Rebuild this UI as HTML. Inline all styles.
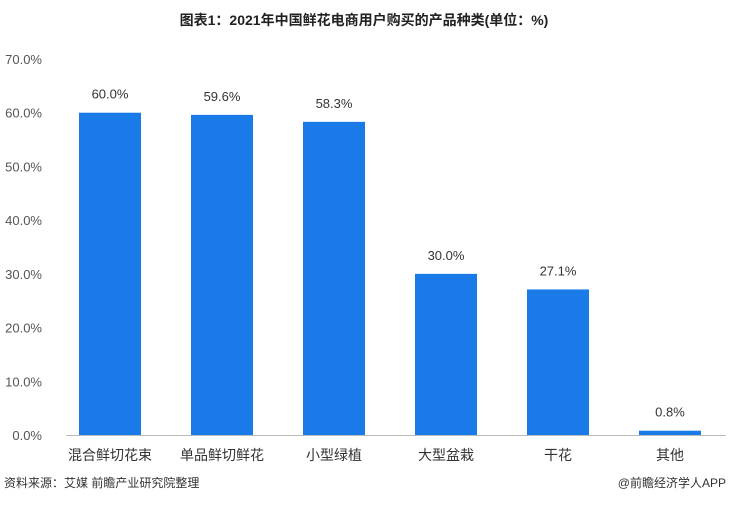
<!DOCTYPE html>
<html><head><meta charset="utf-8">
<style>
body{margin:0;background:#fff;width:729px;height:503px;overflow:hidden;font-family:"Liberation Sans","Noto Sans CJK SC",sans-serif;}
</style></head>
<body>
<svg id="chart" width="729" height="503" xmlns="http://www.w3.org/2000/svg">
<text x="364" y="25" text-anchor="middle" font-size="14" font-weight="bold" fill="#222">图表1：2021年中国鲜花电商用户购买的产品种类(单位：%)</text>
<g id="yaxis"></g>
<g id="bars"></g>
<line x1="66" y1="435.5" x2="726" y2="435.5" stroke="#bbb" stroke-width="1"/>
<text x="4" y="487" font-size="12" fill="#333">资料来源：艾媒 前瞻产业研究院整理</text>
<text x="726" y="487" text-anchor="end" font-size="12" fill="#333">@前瞻经济学人APP</text>
</svg>
<script>
const categories=["混合鲜切花束","单品鲜切鲜花","小型绿植","大型盆栽","干花","其他"];
const values=[60.0,59.6,58.3,30.0,27.1,0.8];
const ticks=[0,10,20,30,40,50,60,70];
const NS="http://www.w3.org/2000/svg";
const y0=435,ppu=(435-59)/70;
const y=v=>y0-v*ppu;
const x=i=>110+i*112;
const yg=document.getElementById('yaxis'),bg=document.getElementById('bars');
ticks.forEach(t=>{
 const tx=document.createElementNS(NS,'text');
 tx.setAttribute('x',42);tx.setAttribute('y',y(t)+5);tx.setAttribute('text-anchor','end');
 tx.setAttribute('font-size','13');tx.setAttribute('fill','#555');
 tx.textContent=t.toFixed(1)+'%';
 
 
 yg.appendChild(tx);
});
categories.forEach((c,i)=>{
 const r=document.createElementNS(NS,'rect');
 r.setAttribute('x',x(i)-31);r.setAttribute('width',62);
 r.setAttribute('y',y(values[i]));r.setAttribute('height',y0-y(values[i]));
 r.setAttribute('fill','#1a7ae8');
 
 
 bg.appendChild(r);
 const v=document.createElementNS(NS,'text');
 v.setAttribute('x',x(i));v.setAttribute('y',y(values[i])-14);v.setAttribute('text-anchor','middle');
 v.setAttribute('font-size','13');v.setAttribute('fill','#333');
 v.textContent=values[i].toFixed(1)+'%';
 
 
 bg.appendChild(v);
 const l=document.createElementNS(NS,'text');
 l.setAttribute('x',x(i));l.setAttribute('y',460);l.setAttribute('text-anchor','middle');
 l.setAttribute('font-size','14');l.setAttribute('fill','#333');
 l.textContent=c;
 
 
 bg.appendChild(l);
});
</script>
</body></html>
